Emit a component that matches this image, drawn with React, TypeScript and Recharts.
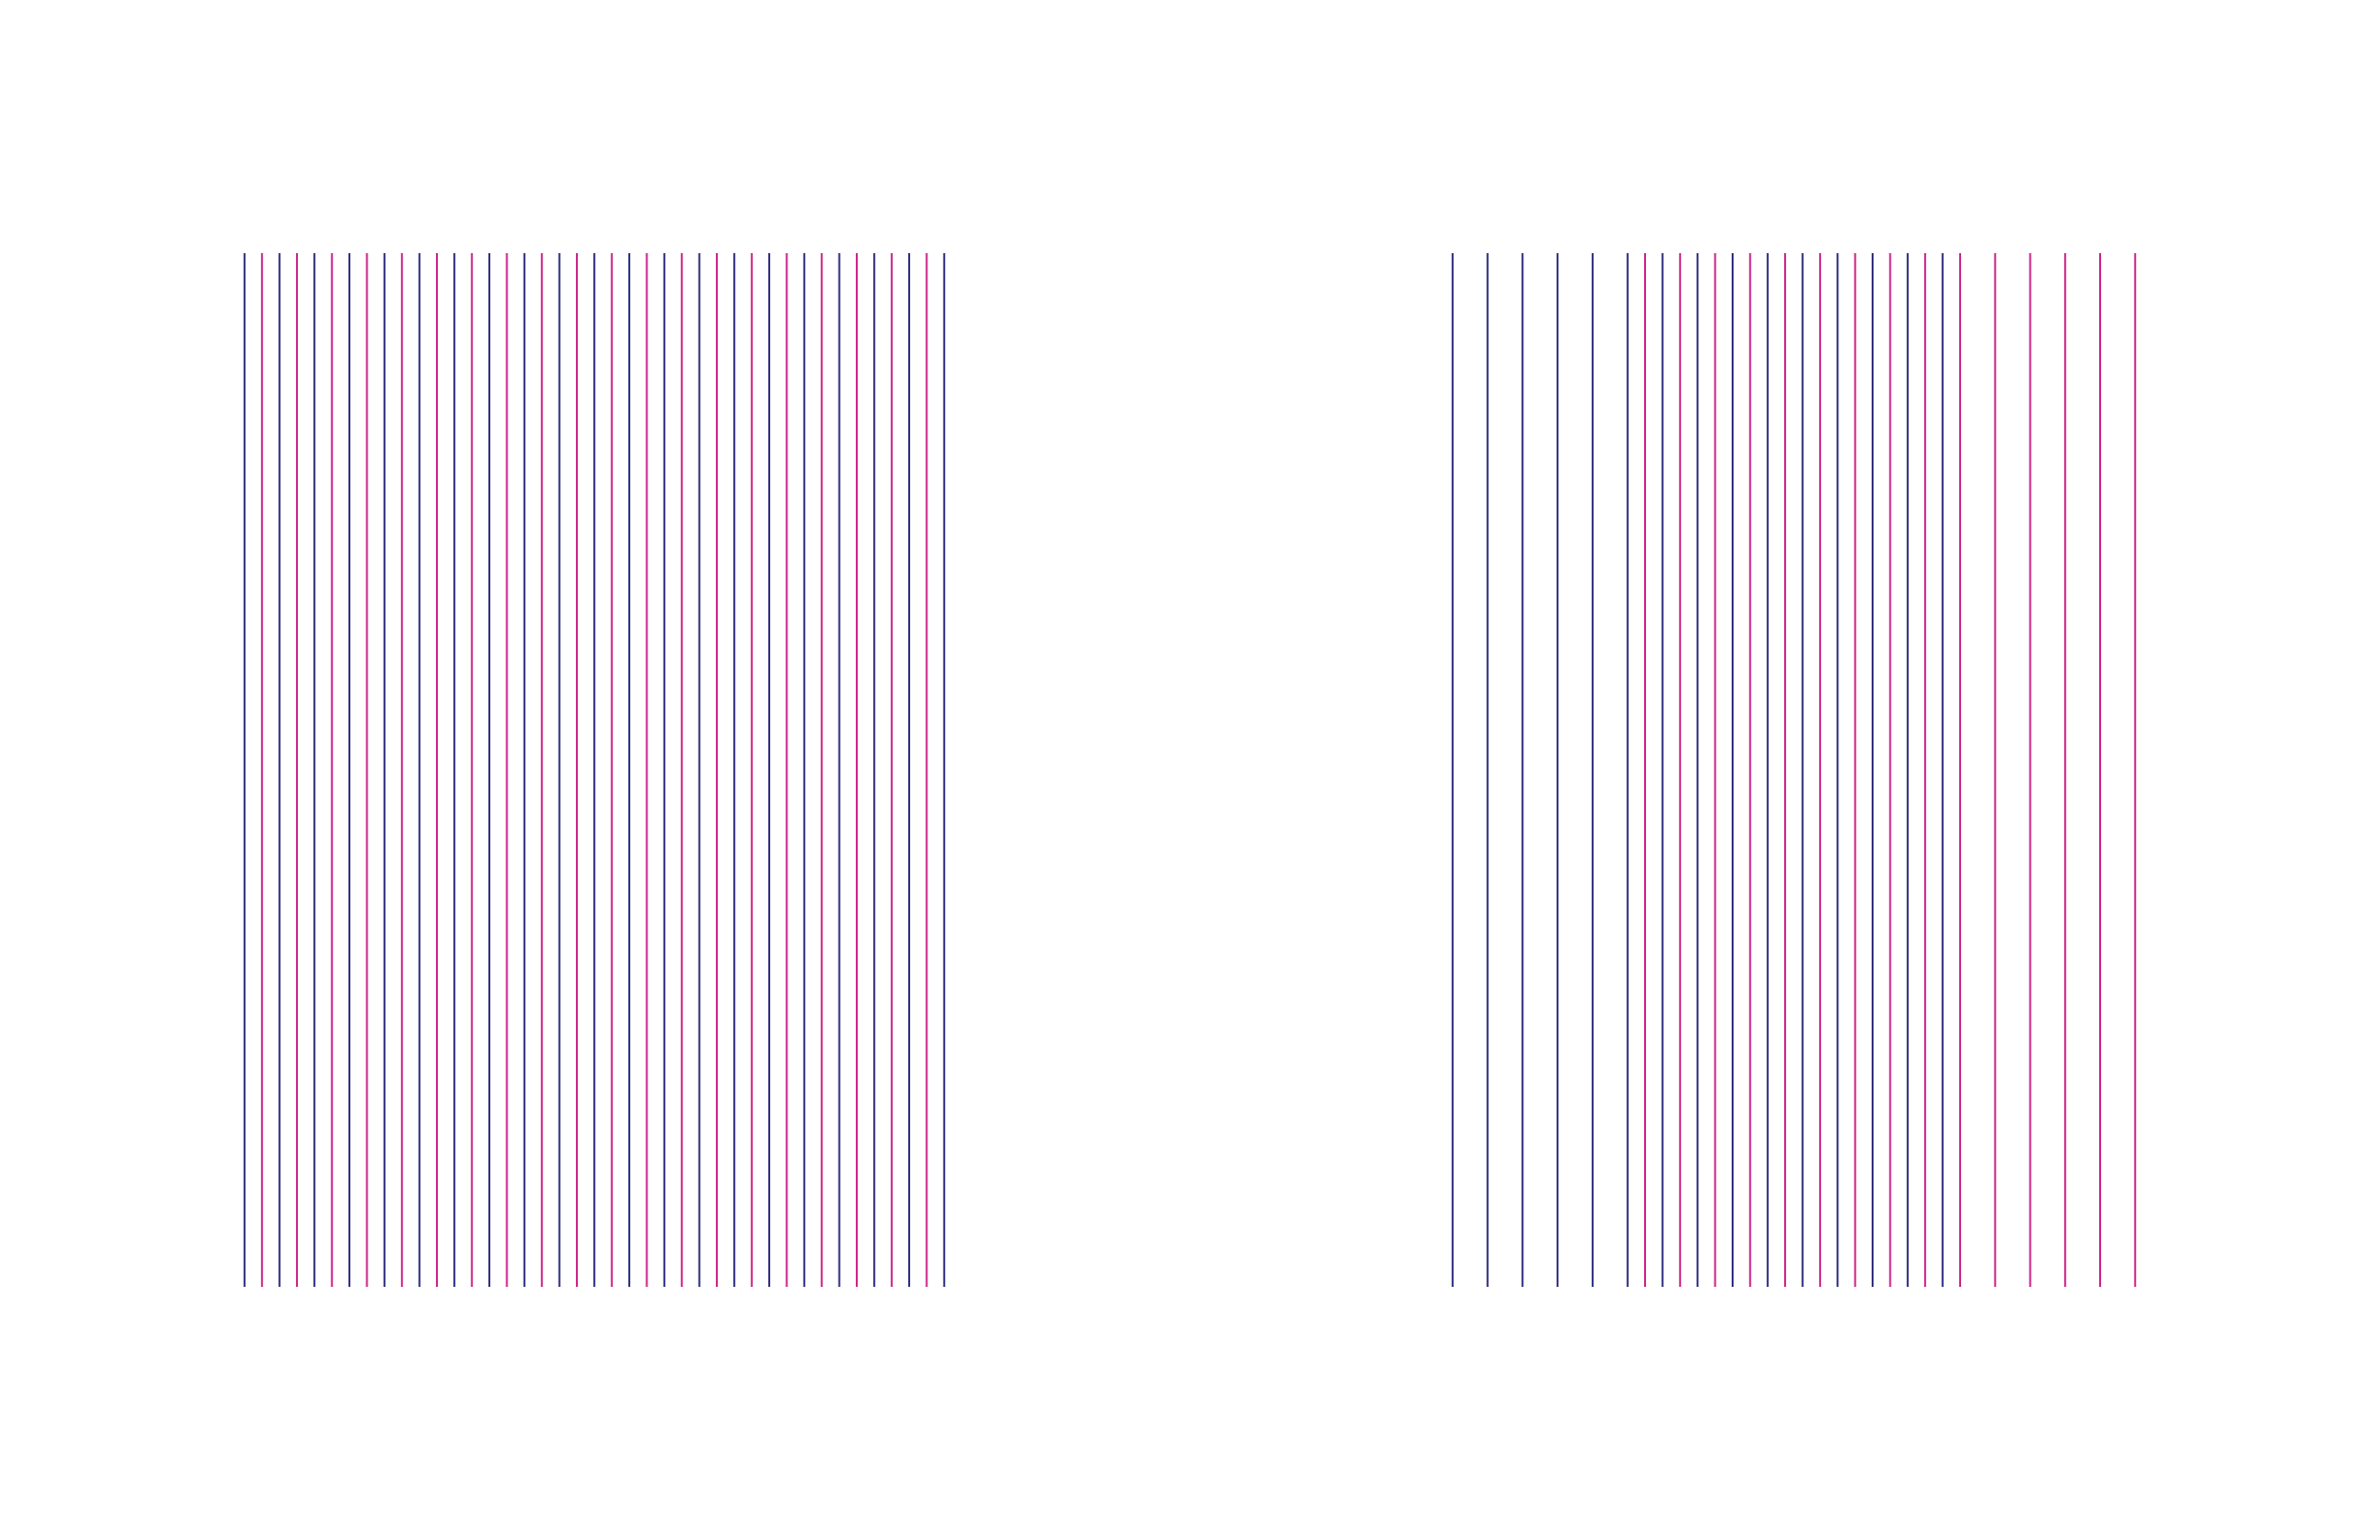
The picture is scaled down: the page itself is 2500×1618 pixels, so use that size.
import React from 'react';
import { BarChart, Bar, XAxis, YAxis, Cell } from 'recharts';

// rank positions of the two groups
const leftBlue = [1, 3, 5, 7, 9, 11, 13, 15, 17, 19, 21, 23, 25, 27, 29, 31, 33, 35, 37, 39, 41];
const leftPink = [2, 4, 6, 8, 10, 12, 14, 16, 18, 20, 22, 24, 26, 28, 30, 32, 34, 36, 38, 40];

const rightBlue = [1, 3, 5, 7, 9, 11, 13, 15, 17, 19, 21, 23, 25, 27, 29];
const rightPink = [12, 14, 16, 18, 20, 22, 24, 26, 28, 30, 32, 34, 36, 38, 40];

const BLUE = '#2c2c7e';
const PINK = '#cc2386';

interface Row {
    x: number;
    y: number;
    group: 'blue' | 'pink';
}

const buildRows = (blue: number[], pink: number[]): Row[] => {
    const rows: Row[] = [
        ...blue.map((x) => ({ x, y: 1, group: 'blue' as const })),
        ...pink.map((x) => ({ x, y: 1, group: 'pink' as const })),
    ];
    return rows.sort((a, b) => a.x - b.x);
};

interface StripProps {
    rows: Row[];
    domain: [number, number];
    width: number;
    left: number;
}

const Strip: React.FC<StripProps> = ({ rows, domain, width, left }) => (
    <div style={{ position: 'absolute', left, top: 256 }}>
        <BarChart
            width={width}
            height={1106}
            data={rows}
            margin={{ top: 10, right: 10, bottom: 10, left: 10 }}
            barSize={2}
        >
            <XAxis dataKey="x" type="number" domain={domain} hide />
            <YAxis type="number" domain={[0, 1]} hide />
            <Bar dataKey="y" isAnimationActive={false}>
                {rows.map((r) => (
                    <Cell key={`${r.group}-${r.x}`} fill={r.group === 'blue' ? BLUE : PINK} />
                ))}
            </Bar>
        </BarChart>
    </div>
);

export default function App() {
    const leftRows = buildRows(leftBlue, leftPink);
    const rightRows = buildRows(rightBlue, rightPink);
    return (
        <div style={{ position: 'absolute', left: 0, top: 0, width: 2500, height: 1618, background: '#fff' }}>
            <Strip rows={leftRows} domain={[1, 41]} width={755} left={247} />
            <Strip rows={rightRows} domain={[1, 40]} width={737} left={1516} />
        </div>
    );
}
